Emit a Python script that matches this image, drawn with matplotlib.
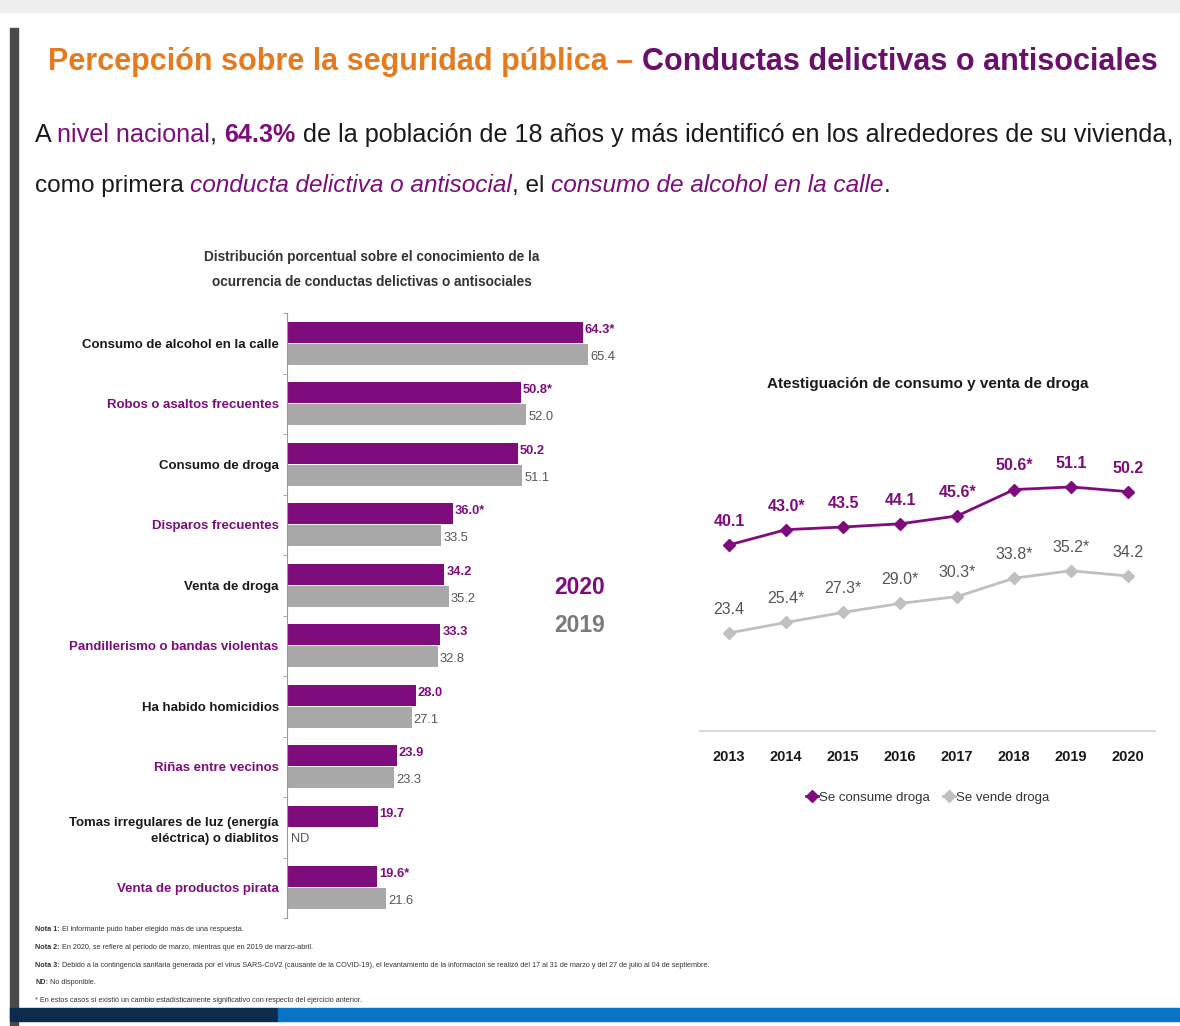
import numpy as np
import matplotlib
matplotlib.use("Agg")
import matplotlib.pyplot as plt
from matplotlib.patches import Rectangle
from matplotlib.lines import Line2D

# no hay Arial Narrow: usamos Liberation Sans y achicamos los tamaños
plt.rcParams['font.family'] = ['Liberation Sans', 'DejaVu Sans']

PURPLE = '#7e0c7d'
PURPLE_T = '#6a0f6b'
ORANGE = '#e57a1f'
GRAY_BAR = '#a8a8a8'
GRAY_LINE = '#c0c0c0'
DARK = '#1a1a1a'
GRAY_TXT = '#555555'

# datos: barras
categorias = ['Consumo de alcohol en la calle', 'Robos o asaltos frecuentes', 'Consumo de droga',
              'Disparos frecuentes', 'Venta de droga', 'Pandillerismo o bandas violentas',
              'Ha habido homicidios', 'Riñas entre vecinos',
              'Tomas irregulares de luz (energía\neléctrica) o diablitos', 'Venta de productos pirata']
valores_2020 = [64.3, 50.8, 50.2, 36.0, 34.2, 33.3, 28.0, 23.9, 19.7, 19.6]
valores_2019 = [65.4, 52.0, 51.1, 33.5, 35.2, 32.8, 27.1, 23.3, None, 21.6]
signif_2020 = [True, True, False, True, False, False, False, False, False, True]

# datos: lineas
anios = [2013, 2014, 2015, 2016, 2017, 2018, 2019, 2020]
consume = [40.1, 43.0, 43.5, 44.1, 45.6, 50.6, 51.1, 50.2]
consume_sig = [False, True, False, False, True, True, False, False]
vende = [23.4, 25.4, 27.3, 29.0, 30.3, 33.8, 35.2, 34.2]
vende_sig = [False, True, True, True, True, True, True, False]

notas = [
    ('Nota 1:', ' El informante pudo haber elegido más de una respuesta.'),
    ('Nota 2:', ' En 2020, se refiere al periodo de marzo, mientras que en 2019 de marzo-abril.'),
    ('Nota 3:', ' Debido a la contingencia sanitaria generada por el virus SARS-CoV2 (causante de la COVID-19), '
                'el levantamiento de la información se realizó del 17 al 31 de marzo y del 27 de julio al 04 de septiembre.'),
    ('ND:', ' No disponible.'),
    ('', '* En estos casos sí existió un cambio estadísticamente significativo con respecto del ejercicio anterior.'),
]

W, H = 1180, 1026
fig = plt.figure(figsize=(W / 100, H / 100), dpi=100)
fig.patch.set_facecolor('white')


def px_axes(x0, y0, x1, y1):
    # caja en pixeles (y desde arriba)
    return fig.add_axes([x0 / W, 1 - y1 / H, (x1 - x0) / W, (y1 - y0) / H])


def fx(x):
    return x / W


def fy(y):
    return 1 - y / H


renderer = fig.canvas.get_renderer()


def chunk_width(s, kw):
    a = fig.text(0, 0, 'x' + s + 'x', **kw)
    b = fig.text(0, 0, 'xx', **kw)
    w = a.get_window_extent(renderer).width - b.get_window_extent(renderer).width
    a.remove()
    b.remove()
    return w


def rich_text(x, y, chunks, width=None, **common):
    # trozos de texto con estilos distintos, uno tras otro; opcionalmente ajustado a un ancho
    if width is not None:
        total = 0
        for s, props in chunks:
            kw = dict(common)
            kw.update(props)
            total += chunk_width(s, kw)
        common = dict(common)
        common['fontsize'] = common['fontsize'] * width / total
    for s, props in chunks:
        kw = dict(common)
        kw.update(props)
        fig.text(fx(x), fy(y), s, va='baseline', ha='left', **kw)
        x += chunk_width(s, kw)


# decoraciones de la diapositiva
fig.patches.append(Rectangle((0, fy(12)), 1, 12 / H, transform=fig.transFigure, color='#eeeeee', zorder=0))
fig.patches.append(Rectangle((fx(10), 0), 8 / W, fy(28), transform=fig.transFigure, color='#4a4a4a', zorder=0))
fig.patches.append(Rectangle((fx(10), fy(1021)), 268 / W, 13 / H, transform=fig.transFigure, color='#0b2c4d', zorder=0))
fig.patches.append(Rectangle((fx(278), fy(1021)), 902 / W, 13 / H, transform=fig.transFigure, color='#0a74c4', zorder=0))

# titulo
rich_text(48, 70, [('Percepción sobre la seguridad pública – ', dict(color=ORANGE)),
                   ('Conductas delictivas o antisociales', dict(color=PURPLE_T))],
          width=1110, fontsize=30, fontweight='bold')

rich_text(35, 142, [('A ', dict(color=DARK)), ('nivel nacional', dict(color=PURPLE)), (', ', dict(color=DARK)),
                    ('64.3%', dict(color=PURPLE, fontweight='bold')),
                    (' de la población de 18 años y más identificó en los alrededores de su vivienda,', dict(color=DARK))],
          width=1135, fontsize=24)
rich_text(35, 192, [('como primera ', dict(color=DARK)),
                    ('conducta delictiva o antisocial', dict(color=PURPLE, style='italic')),
                    (', el ', dict(color=DARK)),
                    ('consumo de alcohol en la calle', dict(color=PURPLE, style='italic')),
                    ('.', dict(color=DARK))],
          width=860, fontsize=24)

# ---- barras ----
ax = px_axes(287, 313, 660, 918)
n = len(categorias)
pos = np.arange(n)
h = 0.35
ax.barh(pos - 0.18, valores_2020, height=h, color=PURPLE)
v19 = [v if v is not None else 0 for v in valores_2019]
ax.barh(pos + 0.18, v19, height=h, color=GRAY_BAR)
for i in range(n):
    lab = f'{valores_2020[i]:.1f}' + ('*' if signif_2020[i] else '')
    ax.text(valores_2020[i] + 0.4, i - 0.22, lab, color=PURPLE, fontsize=9.3, fontweight='bold', va='center')
    if valores_2019[i] is None:
        ax.text(0.9, i + 0.2, 'ND', color=GRAY_TXT, fontsize=9.3, va='center')
    else:
        ax.text(valores_2019[i] + 0.4, i + 0.22, f'{valores_2019[i]:.1f}', color=GRAY_TXT,
                fontsize=9.3, va='center')
ax.set_ylim(n - 0.5, -0.5)
ax.set_xlim(0, 81)
ax.set_yticks(pos)
ax.set_yticklabels(categorias, fontsize=9.5, fontweight='bold', linespacing=1.5)
for i, t in enumerate(ax.get_yticklabels()):
    t.set_color(DARK if i % 2 == 0 else PURPLE)
ax.set_yticks(np.arange(n + 1) - 0.5, minor=True)
ax.tick_params(axis='y', which='major', length=0, pad=6)
ax.tick_params(axis='y', which='minor', length=3, color='#999999')
ax.set_xticks([])
for s in ['top', 'right', 'bottom']:
    ax.spines[s].set_visible(False)
ax.spines['left'].set_color('#999999')
ax.spines['left'].set_linewidth(0.8)

fig.text(fx(372), fy(257), 'Distribución porcentual sobre el conocimiento de la', ha='center', va='center',
         fontsize=9.8, fontweight='bold', color='#333333')
fig.text(fx(372), fy(282), 'ocurrencia de conductas delictivas o antisociales', ha='center', va='center',
         fontsize=9.8, fontweight='bold', color='#333333')
fig.text(fx(580), fy(587), '2020', ha='center', va='center', fontsize=16.5, fontweight='heavy', color=PURPLE)
fig.text(fx(580), fy(625), '2019', ha='center', va='center', fontsize=16.5, fontweight='heavy', color='#7a7a7a')

# ---- lineas ----
ax2 = px_axes(700, 420, 1155, 731)
ax2.plot(anios, consume, color=PURPLE, lw=2, marker='D', ms=6.5)
ax2.plot(anios, vende, color=GRAY_LINE, lw=2, marker='D', ms=6.5)
for x, v, s in zip(anios, consume, consume_sig):
    ax2.annotate(f'{v:.1f}' + ('*' if s else ''), (x, v), xytext=(0, 17), textcoords='offset points',
                 ha='center', va='center', color=PURPLE, fontsize=11.5, fontweight='bold')
for x, v, s in zip(anios, vende, vende_sig):
    ax2.annotate(f'{v:.1f}' + ('*' if s else ''), (x, v), xytext=(0, 17), textcoords='offset points',
                 ha='center', va='center', color=GRAY_TXT, fontsize=11.5)
ax2.set_xlim(2012.49, 2020.47)
ax2.set_ylim(4.8, 63.8)
ax2.set_xticks(anios)
ax2.set_xticklabels([str(a) for a in anios], fontsize=10.5, fontweight='bold', color=DARK)
ax2.tick_params(axis='x', length=0, pad=14)
ax2.set_yticks([])
for s in ['top', 'right', 'left']:
    ax2.spines[s].set_visible(False)
ax2.spines['bottom'].set_color('#d9d9d9')
ax2.spines['bottom'].set_linewidth(1.5)
handles = [Line2D([], [], color=PURPLE, marker='D', ms=6, lw=2),
           Line2D([], [], color=GRAY_LINE, marker='D', ms=6, lw=2)]
ax2.legend(handles, ['Se consume droga', 'Se vende droga'], loc='center', bbox_to_anchor=(0.5, -0.215),
           ncol=2, frameon=False, fontsize=9.5, handlelength=0.9, handletextpad=0.1, columnspacing=1.0,
           labelcolor='#333333')
fig.text(fx(928), fy(384), 'Atestiguación de consumo y venta de droga', ha='center', va='center',
         fontsize=11, fontweight='bold', color=DARK)

# notas
for k, (b, t) in enumerate(notas):
    rich_text(35, 931 + k * 17.8, [(b, dict(fontweight='bold')), (t, dict())], fontsize=5.2, color='#333333')

fig.savefig('out.png', dpi=100)
